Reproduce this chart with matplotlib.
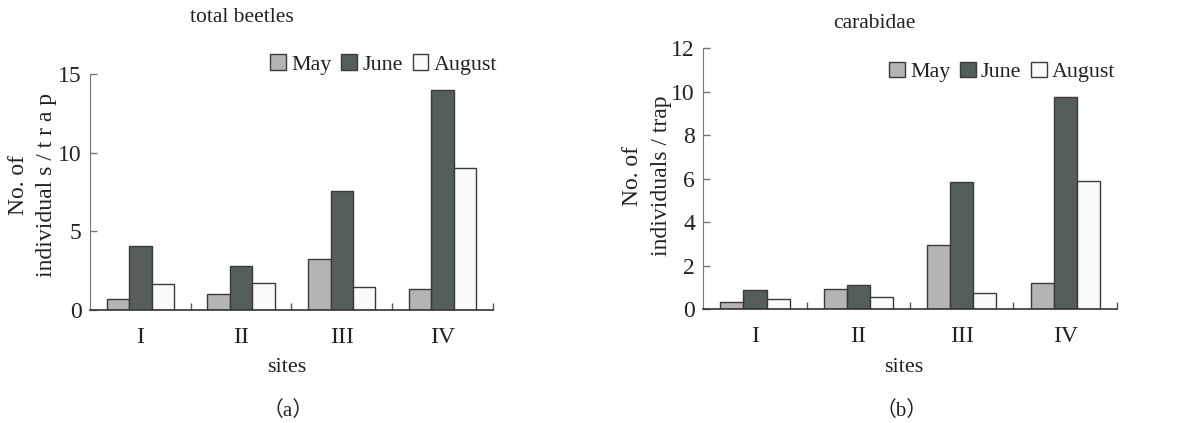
"""Beetle counts per trap by site and month, two panels."""

import matplotlib

matplotlib.use("Agg")
import matplotlib.pyplot as plt
import numpy as np
from matplotlib.patches import Patch

sites = ["I", "II", "III", "IV"]
months = ["May", "June", "August"]

total_may = [0.72, 1.04, 3.22, 1.36]
total_june = [4.09, 2.82, 7.58, 13.98]
total_aug = [1.63, 1.70, 1.44, 9.05]

carab_may = [0.32, 0.91, 2.96, 1.20]
carab_june = [0.86, 1.09, 5.86, 9.78]
carab_aug = [0.45, 0.55, 0.72, 5.91]

colors = ["#b4b4b4", "#555e5d", "#fafafa"]
edge = "#3a3a3a"
ink = "#222222"

plt.rcParams["font.family"] = ["Liberation Serif", "Noto Sans CJK SC"]
plt.rcParams["text.color"] = ink

W, H = 1185, 423
fig = plt.figure(figsize=(W / 100, H / 100), dpi=100)
ax1 = fig.add_axes([0.0759, 0.267, 0.340, 0.558])
ax2 = fig.add_axes([0.5935, 0.2695, 0.349, 0.6163])


def draw(ax, series, ymax, yticks, legend_anchor):
    x = np.arange(len(sites))
    w = 0.223
    for i, vals in enumerate(series):
        ax.bar(x + (i - 1) * w, vals, w, color=colors[i], edgecolor=edge,
               linewidth=1.0, zorder=2)
    ax.set_xlim(-0.5, 3.5)
    ax.set_ylim(0, ymax)
    ax.set_yticks(yticks)
    ax.set_xticks(x)
    ax.set_xticklabels(sites)
    ax.set_xticks([0.5, 1.5, 2.5, 3.5], minor=True)
    ax.tick_params(axis="x", which="major", length=0, pad=12, labelsize=17,
                   labelcolor=ink)
    ax.tick_params(axis="x", which="minor", direction="in", length=5,
                   width=1.0, color="#555555")
    ax.tick_params(axis="y", direction="in", length=5, width=1.0,
                   color="#777777", labelsize=17, labelcolor=ink, pad=6)
    for s in ["top", "right"]:
        ax.spines[s].set_visible(False)
    ax.spines["left"].set_color("#777777")
    ax.spines["bottom"].set_color("#333333")
    ax.spines["bottom"].set_linewidth(1.2)
    handles = [Patch(facecolor=c, edgecolor=edge, linewidth=1.0) for c in colors]
    ax.legend(handles, months, ncol=3, loc="center right",
              bbox_to_anchor=legend_anchor, frameon=False, fontsize=15.8,
              handlelength=0.7, handleheight=0.7, handletextpad=0.25,
              columnspacing=0.45, borderaxespad=0, borderpad=0)


draw(ax1, [total_may, total_june, total_aug], 15, [0, 5, 10, 15], (1.01, 1.04))
draw(ax2, [carab_may, carab_june, carab_aug], 12, [0, 2, 4, 6, 8, 10, 12],
     (0.997, 0.91))


def ftext(px, py, s, **kw):
    fig.text(px / W, 1 - py / H, s, ha="center", va="center", **kw)


# y-axis labels, two lines each
ftext(18, 185, "No. of", rotation=90, fontsize=17)
ftext(47, 185, "individual s / t r a p", rotation=90, fontsize=17)
ftext(632, 176, "No. of", rotation=90, fontsize=17)
ftext(662, 176, "individuals / trap", rotation=90, fontsize=17)

ftext(242, 18, "total beetles", fontsize=15.5)
ftext(874, 23, "carabidae", fontsize=15.5)
ftext(287, 367, "sites", fontsize=16)
ftext(904, 367, "sites", fontsize=16)
ftext(288, 411, "（a）", fontsize=15)
ftext(902, 411, "（b）", fontsize=15)

fig.savefig("out.png", dpi=100)
